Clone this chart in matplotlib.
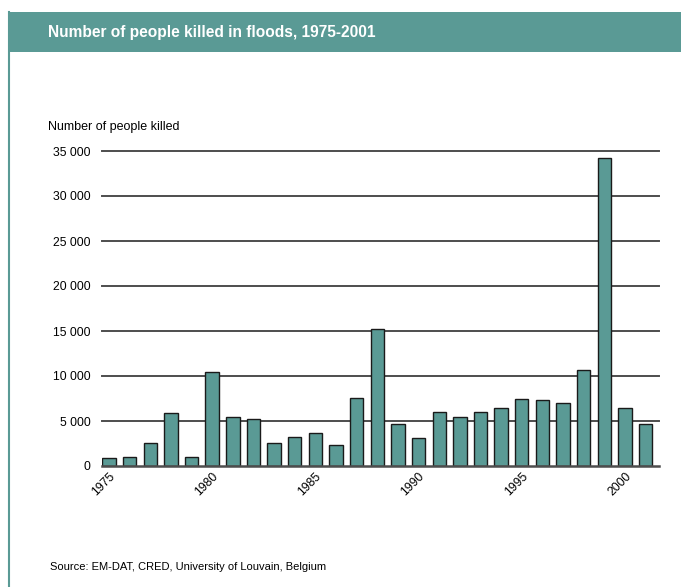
import matplotlib
matplotlib.use("Agg")
import matplotlib.pyplot as plt
from matplotlib.patches import Rectangle
from matplotlib.lines import Line2D
from matplotlib import font_manager

years = list(range(1975, 2002))
killed = [900, 1000, 2600, 5900, 1050, 10500, 5400, 5200, 2600, 3200, 3700, 2300,
          7600, 15200, 4700, 3100, 6000, 5400, 6000, 6400, 7500, 7300, 7000, 10700,
          34200, 6400, 4700]
yticks = [0, 5000, 10000, 15000, 20000, 25000, 30000, 35000]
ytick_labels = ["0", "5 000", "10 000", "15 000", "20 000", "25 000", "30 000", "35 000"]
xtick_years = [1975, 1980, 1985, 1990, 1995, 2000]

title = "Number of people killed in floods, 1975-2001"
ylabel = "Number of people killed"
source = "Source: EM-DAT, CRED, University of Louvain, Belgium"

avail = {f.name for f in font_manager.fontManager.ttflist}
fam = [f for f in ["Liberation Sans Narrow", "Liberation Sans", "DejaVu Sans"] if f in avail]
plt.rcParams['font.family'] = fam

teal = "#5a9a95"
W, H = 681, 587
fig = plt.figure(figsize=(W / 100, H / 100), dpi=100)

# title band
fig.patches.append(Rectangle((8 / W, 1 - 52 / H), 1 - 8 / W, 40 / H, transform=fig.transFigure,
                             facecolor=teal, edgecolor="none"))
fig.lines.append(Line2D([8.5 / W, 8.5 / W], [0, 1 - 12 / H], transform=fig.transFigure,
                        color=teal, lw=1.5))
fig.text(48 / W, 1 - 32 / H, title, color="white", fontsize=11.2, fontweight="bold",
         va="center", ha="left")

left, right = 101.7 / W, 659 / W
bottom, top = 1 - 466 / H, 1 - 151 / H
ax = fig.add_axes([left, bottom, right - left, top - bottom])
x = list(range(len(years)))
ax.bar(x, killed, width=0.65, color=teal, edgecolor="#1a1a1a", linewidth=1.0, zorder=3)
for v in yticks:
    ax.axhline(v, color="#4d4d4d", lw=1.8 if v == 0 else 1.4, zorder=4 if v == 0 else 1,
               clip_on=False)
ax.set_xlim(-0.354, 26.65)
ax.set_ylim(0, 35000)
ax.set_yticks(yticks)
ax.set_yticklabels(ytick_labels, fontsize=8.8)
ax.set_xticks([years.index(y) for y in xtick_years])
ax.set_xticklabels([str(y) for y in xtick_years], fontsize=8.8, rotation=45,
                   ha="right", va="top", rotation_mode="anchor")
ax.tick_params(length=0, pad=8)
ax.tick_params(axis="x", pad=3)
for s in ax.spines.values():
    s.set_visible(False)

fig.text(48 / W, 1 - 127 / H, ylabel, fontsize=9, va="center", ha="left")
fig.text(50 / W, 1 - 567 / H, source, fontsize=8, va="center", ha="left")

fig.savefig("out.png", dpi=100)
